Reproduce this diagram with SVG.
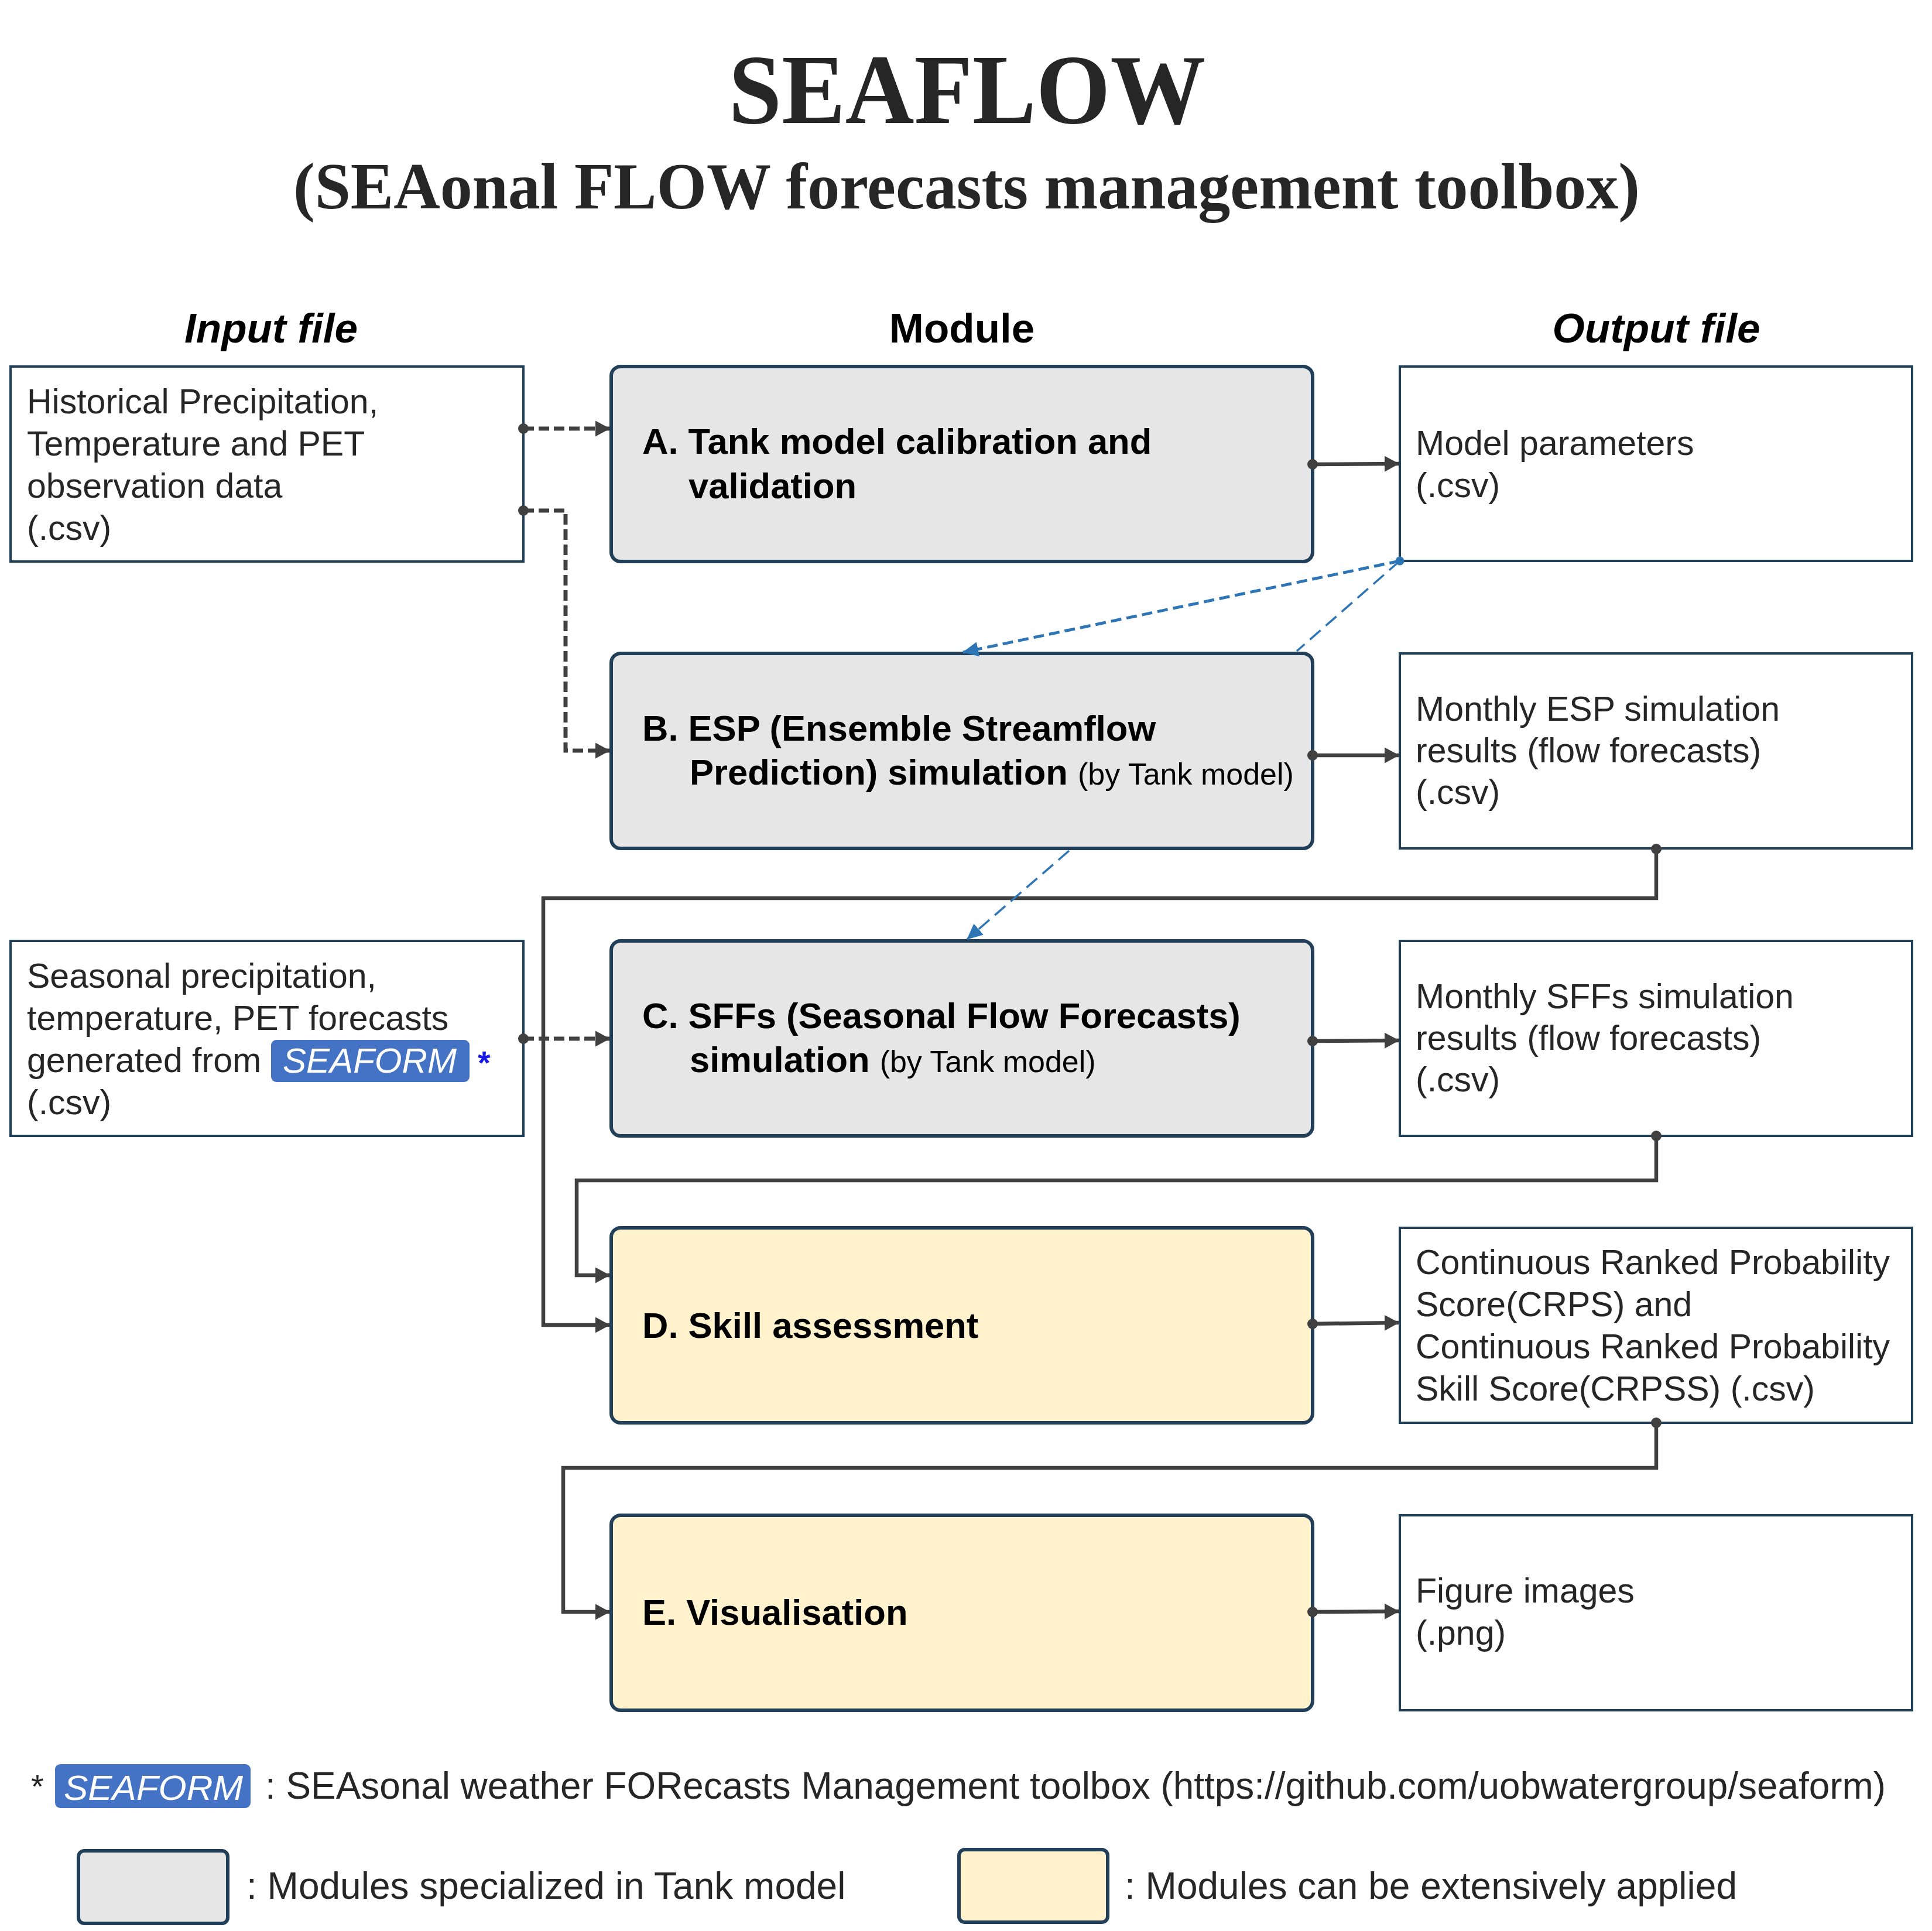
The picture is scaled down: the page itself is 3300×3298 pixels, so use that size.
<svg xmlns="http://www.w3.org/2000/svg" width="3300" height="3298" viewBox="0 0 3300 3298">
<defs>
<style>
.io{fill:#fff;stroke:#223F5A;stroke-width:4}
.modg{fill:#E7E6E6;stroke:#223F5A;stroke-width:6}
.mody{fill:#FFF2CC;stroke:#223F5A;stroke-width:6}
.t{font-family:"Liberation Sans",Arial,sans-serif;font-size:59px;fill:#262626}
.ft{font-family:"Liberation Sans",Arial,sans-serif;font-size:64px;fill:#262626}
.mb{font-family:"Liberation Sans",Arial,sans-serif;font-size:61.5px;font-weight:bold;fill:#000}
.ms{font-family:"Liberation Sans",Arial,sans-serif;font-size:52px;font-weight:normal;fill:#000}
.hd{font-family:"Liberation Sans",Arial,sans-serif;font-size:71px;font-weight:bold;fill:#000;text-anchor:middle}
.badge{fill:#4472C4}
.bt{font-family:"Liberation Sans",Arial,sans-serif;font-size:60px;font-style:italic;fill:#fff}
.solid{fill:none;stroke:#404040;stroke-width:6.5}
.dash{fill:none;stroke:#404040;stroke-width:7;stroke-dasharray:18 8}
.blue{fill:none;stroke:#2E75B6;stroke-width:5;stroke-dasharray:18 9}
.blue2{fill:none;stroke:#2E75B6;stroke-width:3.5;stroke-dasharray:24 12}
</style>
<marker id="arr" markerUnits="userSpaceOnUse" viewBox="0 0 25 27" markerWidth="25" markerHeight="27" refX="24" refY="13.5" orient="auto">
<path d="M0,0 L25,13.5 L0,27 z" fill="#404040"/>
</marker>
<marker id="arrb" markerUnits="userSpaceOnUse" viewBox="0 0 27 25" markerWidth="27" markerHeight="25" refX="26" refY="12.5" orient="auto">
<path d="M0,0 L27,12.5 L0,25 z" fill="#2E75B6"/>
</marker>
<marker id="dot" markerUnits="userSpaceOnUse" viewBox="0 0 20 20" markerWidth="20" markerHeight="20" refX="10" refY="10">
<circle cx="10" cy="10" r="9" fill="#404040"/>
</marker>
<marker id="dotb" markerUnits="userSpaceOnUse" viewBox="0 0 16 16" markerWidth="16" markerHeight="16" refX="8" refY="8">
<circle cx="8" cy="8" r="7.5" fill="#2E75B6"/>
</marker>
</defs>
<rect width="3300" height="3298" fill="#fff"/>

<g id="title">
<text x="1652" y="210" text-anchor="middle" font-family="Liberation Serif, Times New Roman, serif" font-weight="bold" font-size="170" fill="#262626" textLength="815" lengthAdjust="spacingAndGlyphs">SEAFLOW</text>
<text x="1651" y="356" text-anchor="middle" font-family="Liberation Serif, Times New Roman, serif" font-weight="bold" font-size="112" fill="#262626" textLength="2300" lengthAdjust="spacingAndGlyphs">(SEAonal FLOW forecasts management toolbox)</text>
</g>

<g id="headers">
<text class="hd" x="463" y="585" font-style="italic">Input file</text>
<text class="hd" x="1643" y="585">Module</text>
<text class="hd" x="2829" y="585" font-style="italic">Output file</text>
</g>

<g id="input1">
<rect class="io" x="18" y="626" width="876" height="333"/>
<text class="t" x="46"><tspan x="46" y="706">Historical Precipitation,</tspan><tspan x="46" y="778">Temperature and PET</tspan><tspan x="46" y="850">observation data</tspan><tspan x="46" y="922">(.csv)</tspan></text>
</g>

<g id="input2">
<rect class="io" x="18" y="1607" width="876" height="333"/>
<text class="t"><tspan x="46" y="1687">Seasonal precipitation,</tspan><tspan x="46" y="1759">temperature, PET forecasts</tspan><tspan x="46" y="1831">generated from</tspan><tspan x="46" y="1903">(.csv)</tspan></text>
<rect class="badge" x="463" y="1776" width="339" height="72" rx="9"/>
<text class="bt" x="483" y="1832" textLength="297" lengthAdjust="spacingAndGlyphs">SEAFORM</text>
<text x="816" y="1834" font-family="Liberation Sans,Arial,sans-serif" font-weight="bold" font-size="56" fill="#1A1AE6">*</text>
</g>

<g id="moduleA">
<rect class="modg" x="1044" y="626" width="1198" height="333" rx="16"/>
<text class="mb"><tspan x="1097" y="775">A. Tank model calibration and</tspan><tspan x="1176" y="851">validation</tspan></text>
</g>

<g id="moduleB">
<rect class="modg" x="1044" y="1116" width="1198" height="333" rx="16"/>
<text class="mb"><tspan x="1097" y="1265">B. ESP (Ensemble Streamflow</tspan><tspan x="1178" y="1340">Prediction) simulation <tspan class="ms">(by Tank model)</tspan></tspan></text>
</g>

<g id="moduleC">
<rect class="modg" x="1044" y="1607" width="1198" height="333" rx="16"/>
<text class="mb"><tspan x="1097" y="1756">C. SFFs (Seasonal Flow Forecasts)</tspan><tspan x="1178" y="1831">simulation <tspan class="ms">(by Tank model)</tspan></tspan></text>
</g>

<g id="moduleD">
<rect class="mody" x="1044" y="2097" width="1198" height="333" rx="16"/>
<text class="mb" x="1097" y="2285">D. Skill assessment</text>
</g>

<g id="moduleE">
<rect class="mody" x="1044" y="2588" width="1198" height="333" rx="16"/>
<text class="mb" x="1097" y="2775">E. Visualisation</text>
</g>

<g id="outA">
<rect class="io" x="2391" y="626" width="875" height="332"/>
<text class="t"><tspan x="2418" y="777">Model parameters</tspan><tspan x="2418" y="849">(.csv)</tspan></text>
</g>

<g id="outB">
<rect class="io" x="2391" y="1116" width="875" height="333"/>
<text class="t"><tspan x="2418" y="1231">Monthly ESP simulation</tspan><tspan x="2418" y="1302">results (flow forecasts)</tspan><tspan x="2418" y="1373">(.csv)</tspan></text>
</g>

<g id="outC">
<rect class="io" x="2391" y="1607" width="875" height="333"/>
<text class="t"><tspan x="2418" y="1722">Monthly SFFs simulation</tspan><tspan x="2418" y="1793">results (flow forecasts)</tspan><tspan x="2418" y="1864">(.csv)</tspan></text>
</g>

<g id="outD">
<rect class="io" x="2391" y="2097" width="875" height="333"/>
<text class="t"><tspan x="2418" y="2176">Continuous Ranked Probability</tspan><tspan x="2418" y="2248">Score(CRPS) and</tspan><tspan x="2418" y="2320">Continuous Ranked Probability</tspan><tspan x="2418" y="2392">Skill Score(CRPSS) (.csv)</tspan></text>
</g>

<g id="outE">
<rect class="io" x="2391" y="2588" width="875" height="333"/>
<text class="t"><tspan x="2418" y="2737">Figure images</tspan><tspan x="2418" y="2809">(.png)</tspan></text>
</g>

<g id="connectors">
<path class="dash" d="M894 732 L1041 732" marker-start="url(#dot)" marker-end="url(#arr)"/>
<path class="dash" d="M894 872 L966 872 L966 1282 L1041 1282" marker-start="url(#dot)" marker-end="url(#arr)"/>
<path class="dash" d="M894 1774 L1041 1774" marker-start="url(#dot)" marker-end="url(#arr)"/>
<path class="solid" d="M2242 793 L2389 792" marker-start="url(#dot)" marker-end="url(#arr)"/>
<path class="solid" d="M2242 1290 L2389 1290" marker-start="url(#dot)" marker-end="url(#arr)"/>
<path class="solid" d="M2242 1778 L2389 1777" marker-start="url(#dot)" marker-end="url(#arr)"/>
<path class="solid" d="M2242 2261 L2389 2259" marker-start="url(#dot)" marker-end="url(#arr)"/>
<path class="solid" d="M2242 2753 L2389 2752" marker-start="url(#dot)" marker-end="url(#arr)"/>
<path class="solid" d="M2829 1450 L2829 1534 L928 1534 L928 2263 L1041 2263" marker-start="url(#dot)" marker-end="url(#arr)"/>
<path class="solid" d="M2829 1940 L2829 2016 L985 2016 L985 2178 L1041 2178" marker-start="url(#dot)" marker-end="url(#arr)"/>
<path class="solid" d="M2829 2430 L2829 2507 L962 2507 L962 2753 L1041 2753" marker-start="url(#dot)" marker-end="url(#arr)"/>
<path class="blue" d="M2391 958 L1645 1114" marker-start="url(#dotb)" marker-end="url(#arrb)"/>
<path class="blue2" d="M2391 958 L2215 1112 M1826 1453 L1652 1604" marker-end="url(#arrb)"/>
</g>

<g id="legend">
<text x="53" y="3070" font-family="Liberation Sans,Arial,sans-serif" font-size="56" fill="#262626">*</text>
<rect class="badge" x="94" y="3013" width="334" height="75" rx="9"/>
<text class="bt" x="109" y="3074" textLength="306" lengthAdjust="spacingAndGlyphs">SEAFORM</text>
<text class="ft" x="453" y="3072" textLength="2768" lengthAdjust="spacingAndGlyphs">: SEAsonal weather FORecasts Management toolbox (https://github.com/uobwatergroup/seaform)</text>
<rect class="modg" x="134" y="3161" width="255" height="124" rx="10"/>
<text class="ft" x="421" y="3243">: Modules specialized in Tank model</text>
<rect class="mody" x="1638" y="3159" width="254" height="124" rx="10"/>
<text class="ft" x="1921" y="3243">: Modules can be extensively applied</text>
</g>
</svg>
